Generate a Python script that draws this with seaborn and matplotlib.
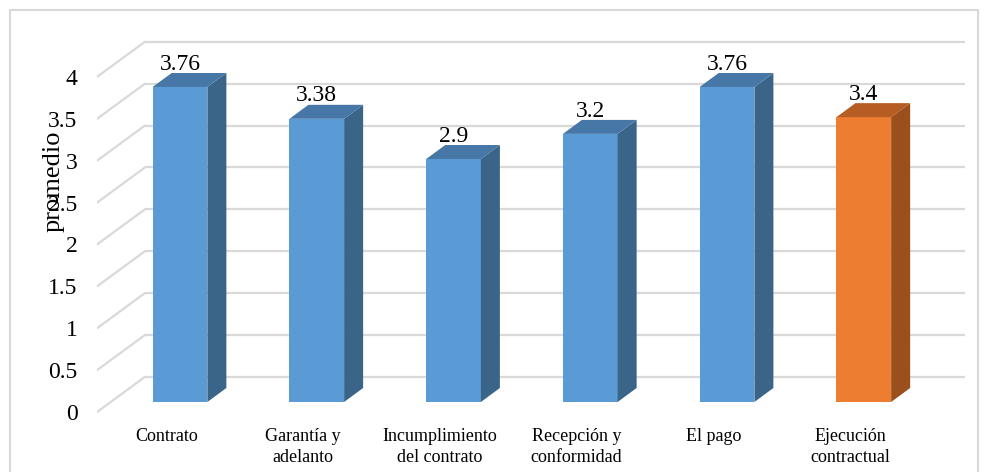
import matplotlib.pyplot as plt
import numpy as np
import seaborn as sns
from matplotlib.patches import Polygon, Rectangle

# data
categorias = ['Contrato', 'Garantía y\nadelanto', 'Incumplimiento\ndel contrato',
              'Recepción y\nconformidad', 'El pago', 'Ejecución\ncontractual']
promedios = [3.76, 3.38, 2.9, 3.2, 3.76, 3.4]
etiquetas = ['3.76', '3.38', '2.9', '3.2', '3.76', '3.4']
y_ticks = [0, 0.5, 1, 1.5, 2, 2.5, 3, 3.5, 4]
y_ticklabels = ['0', '0.5', '1', '1.5', '2', '2.5', '3', '3.5', '4']

# front / side / top colours for each bar (last one highlighted)
front_cols = ['#5B9BD5'] * 5 + ['#ED7D31']
side_cols = ['#3A6488'] * 5 + ['#9A4F1D']
top_cols = ['#4677A6'] * 5 + ['#B55D22']

sns.set_theme(style='white')
plt.rcParams['font.family'] = ['Liberation Serif', 'DejaVu Serif']

W, H = 987, 472
fig = plt.figure(figsize=(W / 100, H / 100), dpi=100)
# axes placed in pixel terms: x 97..965, y 30..420
ax = fig.add_axes([97 / W, 1 - 420 / H, (965 - 97) / W, (420 - 30) / H])

x = np.arange(len(categorias))
DX, DY = 0.139, 0.167          # bar depth in data units
WALL_X0 = -0.256               # back wall left edge
WALL_DY = 0.30                 # back wall lift
FLOOR_DY = -0.12               # front edge of the floor

# back wall grid and the floor/side diagonals
for v in y_ticks:
    ax.plot([WALL_X0, 5.74], [v + WALL_DY, v + WALL_DY], color='#D9D9D9', lw=1.6, zorder=0,
            solid_capstyle='butt')
    ax.plot([-0.607, WALL_X0], [v + FLOOR_DY, v + WALL_DY], color='#D9D9D9', lw=1.6, zorder=0)

sns.barplot(x=x, y=promedios, hue=x, palette=front_cols, width=0.4, legend=False,
            saturation=1, ax=ax, zorder=2, native_scale=True, linewidth=0)

for i, p in enumerate(ax.patches):
    x0, w, h = p.get_x(), p.get_width(), p.get_height()
    side = Polygon([(x0 + w, 0), (x0 + w + DX, DY), (x0 + w + DX, h + DY), (x0 + w, h)],
                   closed=True, facecolor=side_cols[i], edgecolor='none', zorder=2)
    top = Polygon([(x0, h), (x0 + w, h), (x0 + w + DX, h + DY), (x0 + DX, h + DY)],
                  closed=True, facecolor=top_cols[i], edgecolor='none', zorder=2)
    ax.add_patch(side)
    ax.add_patch(top)
    ax.text(x0 + w / 2, h + DY + 0.04, etiquetas[i], ha='center', va='baseline',
            fontsize=17, color='black', zorder=3)

ax.set_xlim(-0.607, 5.74)
ax.set_ylim(-0.215, 4.44)
ax.set_xticks(x - 0.1, categorias, fontsize=13, color='black', linespacing=1.25)
ax.set_yticks(np.array(y_ticks) + FLOOR_DY, y_ticklabels, fontsize=17, color='black')
ax.tick_params(axis='x', length=0, pad=6)
ax.tick_params(axis='y', length=0, pad=14)
for s in ax.spines.values():
    s.set_visible(False)
ax.set_facecolor('none')
ax.set_xlabel('')
ax.set_ylabel('')

# y title sits over the tick labels, as in the source chart
fig.text(54 / W, 1 - 181 / H, 'promedio', rotation=90, ha='center', va='center',
         fontsize=19, color='black')

fig.patches.append(Rectangle((10 / W, -0.05), 968 / W, 1 - 10 / H + 0.05,
                             transform=fig.transFigure, fill=False,
                             edgecolor='#D9D9D9', lw=1.5))

fig.savefig('out.png', dpi=100)
